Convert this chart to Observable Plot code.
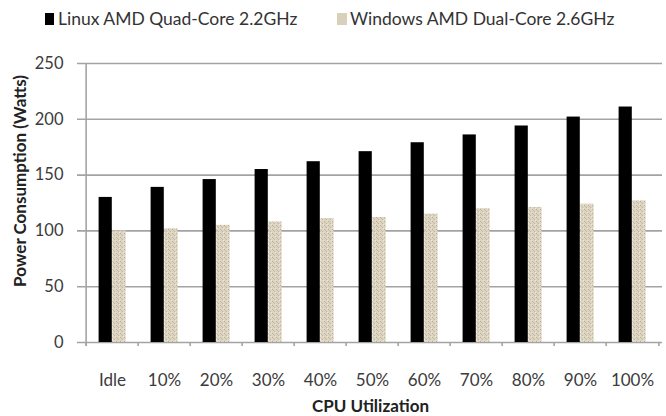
<!DOCTYPE html>
<html>
<head>
<meta charset="utf-8">
<script src="https://cdn.jsdelivr.net/npm/d3@7"></script>
<script src="https://cdn.jsdelivr.net/npm/@observablehq/plot@0.6"></script>
<style>
  html, body { margin: 0; padding: 0; background: #fff; }
  #wrap { position: relative; width: 666px; height: 416px; font-family: Lato, "Open Sans", sans-serif; }
  #legend { position: relative; height: 36px; width: 666px; }
  .sw { position: absolute; width: 9px; height: 12px; top: 13px; }
  .lt { position: absolute; top: 8px; font-size: 17.5px; color: #333; line-height: 22px; white-space: nowrap; }
  #chart svg { display: block; }
</style>
</head>
<body>
<div id="wrap">
  <div id="legend"></div>
  <div id="chart"></div>
</div>
<script>
const categories = ["Idle", "10%", "20%", "30%", "40%", "50%", "60%", "70%", "80%", "90%", "100%"];
const seriesNames = ["Linux AMD Quad-Core 2.2GHz", "Windows AMD Dual-Core 2.6GHz"];
const linuxWatts = [130, 139, 146, 155, 162, 171, 179, 186, 194, 202, 211];
const windowsWatts = [100, 102, 105, 108, 111, 112, 115, 120, 121, 124, 127];
const yTicks = [0, 50, 100, 150, 200, 250];
const xTitle = "CPU Utilization";
const yTitle = "Power Consumption (Watts)";

const W = 666, H = 380;
const mL = 82, mR = 4, mT = 27, mB = 74;
const bw = (W - mL - mR) / categories.length;
const grid = "#a3a3a3";
const textCol = "#3b3b3b";

const linux = categories.map((c, i) => ({cat: c, v: linuxWatts[i]}));
const windows = categories.map((c, i) => ({cat: c, v: windowsWatts[i]}));

// legend (HTML)
const legend = document.getElementById("legend");
legend.innerHTML = `
  <div class="sw" style="left:45px;background:#000"></div>
  <div class="lt" style="left:58px">${seriesNames[0]}</div>
  <div class="sw" style="left:337px;background:#d9d0bb;width:10px"></div>
  <div class="lt" style="left:350px">${seriesNames[1]}</div>`;

const defsMark = () => {
  const defs = d3.create("svg:defs");
  const p = defs.append("pattern").attr("id", "beige").attr("patternUnits", "userSpaceOnUse")
    .attr("width", 4).attr("height", 4);
  p.append("rect").attr("width", 4).attr("height", 4).attr("fill", "#ddd5c1");
  p.append("rect").attr("x", 0).attr("y", 1).attr("width", 1).attr("height", 1).attr("fill", "#b9ae97");
  p.append("rect").attr("x", 2).attr("y", 3).attr("width", 1).attr("height", 1).attr("fill", "#bfb49d");
  p.append("rect").attr("x", 3).attr("y", 0).attr("width", 1).attr("height", 1).attr("fill", "#ece6d8");
  p.append("rect").attr("x", 1).attr("y", 2).attr("width", 1).attr("height", 1).attr("fill", "#c8bea8");
  return defs.node();
};

const chart = Plot.plot({
  width: W,
  height: H,
  marginLeft: mL,
  marginRight: mR,
  marginTop: mT,
  marginBottom: mB,
  style: {fontFamily: "Lato, 'Open Sans', sans-serif", background: "#fff", color: textCol, overflow: "visible"},
  x: {type: "band", domain: categories, padding: 0, label: null},
  y: {domain: [0, 250], label: null},
  marks: [
    defsMark,
    Plot.ruleY(yTicks, {y: d => d, stroke: grid, strokeWidth: 1.6, insetLeft: -5}),
    Plot.ruleX([categories[0]], {x: d => d, dx: -bw / 2, stroke: grid, strokeWidth: 1.6, insetBottom: -4}),
    Plot.axisX({ticks: categories, tickSize: 4, tickFormat: () => "", dx: -bw / 2, stroke: grid, strokeWidth: 1.6, label: null}),
    Plot.axisX({ticks: [categories[categories.length - 1]], tickSize: 4, tickFormat: () => "", dx: bw / 2, stroke: grid, strokeWidth: 1.6, label: null}),
    Plot.axisX({ticks: categories, tickSize: 0, tickPadding: 31, fontSize: 17, fill: textCol, label: null}),
    Plot.axisY({ticks: yTicks, tickSize: 0, tickPadding: 19, fontSize: 16.5, fill: textCol, label: null}),
    Plot.barY(linux, {x: "cat", y: "v", fill: "#000", insetLeft: 12.6, insetRight: 26.2}),
    Plot.barY(windows, {x: "cat", y: "v", fill: "url(#beige)", insetLeft: 26.4, insetRight: 12.4}),
    Plot.text([yTitle], {frameAnchor: "left", text: d => d, rotate: -90, dx: -62, dy: -22,
      textAnchor: "middle", lineAnchor: "middle", fontSize: 17, fontWeight: "bold", fill: "#222"}),
    Plot.text([xTitle], {frameAnchor: "bottom", text: d => d, dx: -2, dy: 64.5,
      textAnchor: "middle", lineAnchor: "middle", fontSize: 17, fontWeight: "bold", fill: "#222"})
  ]
});
document.getElementById("chart").appendChild(chart);
</script>
</body>
</html>
